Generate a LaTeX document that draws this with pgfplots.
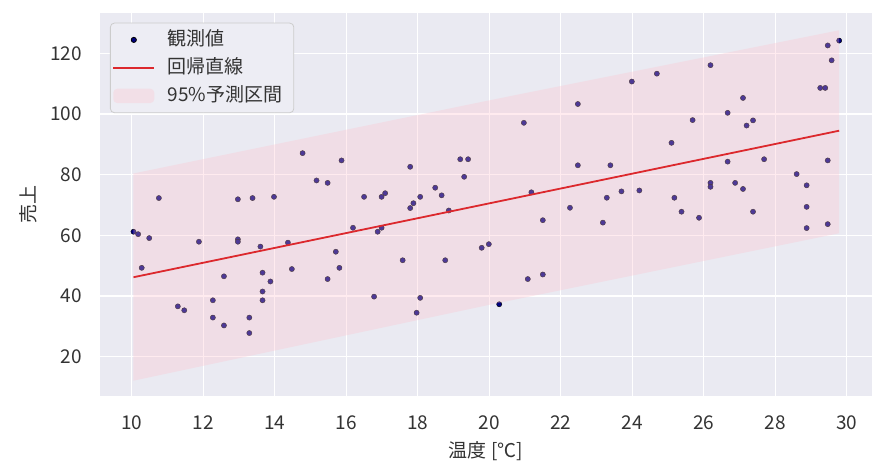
\documentclass[border=0pt]{standalone}
\usepackage{pgfplots}
\pgfplotsset{compat=1.18}
\usepackage{fontspec}
\setmainfont{Noto Sans CJK JP}
\definecolor{bgc}{HTML}{EAEAF2}
\definecolor{txt}{HTML}{333333}
\definecolor{ptc}{HTML}{000080}
\definecolor{linec}{RGB}{220,40,45}
\definecolor{bandc}{HTML}{FFC0CB}
\definecolor{legedge}{HTML}{CCCCCC}
\definecolor{legfill}{HTML}{EDEDF4}
\pgfplotsset{bandlegend/.style={legend image code/.code={\fill[##1] (0bp,-7.2bp) rectangle (41bp,7.2bp);}}}
\begin{document}
\begin{tikzpicture}
\useasboundingbox (-100bp,-76.3bp) rectangle (791bp,395.7bp);
\begin{axis}[
  scale only axis, width=771.7bp, height=382.4bp,
  at={(0,0)}, anchor=south west,
  clip mode=individual,
  xmin=9.113, xmax=30.70, ymin=7.15, ymax=133.2,
  xtick={10,12,...,30}, ytick={20,40,...,120},
  axis line style={draw=none}, tick style={draw=none},
  axis background/.style={fill=bgc},
  grid=major, major grid style={white, line width=1.3bp},
  font=\fontsize{19bp}{23bp}\selectfont,
  /pgf/number format/assume math mode=true,
  tick label style={text=txt, font=\fontsize{19bp}{23bp}\selectfont},
  xticklabel style={anchor=center, inner sep=0pt, yshift=-27.3bp},
  yticklabel style={anchor=east, inner sep=0pt, xshift=-18bp},
  xlabel={温度 [℃]}, ylabel={売上},
  xlabel style={at={(axis description cs:0.5,-0.1451)}, anchor=center, text=txt},
  ylabel style={at={(axis description cs:-0.0933,0.5)}, anchor=center, text=txt},
  legend cell align=left,
  legend style={at={(axis description cs:0,1)}, anchor=north west, xshift=10bp, yshift=-9.4bp,
    draw=legedge, line width=0.8bp, fill=legfill, rounded corners=4bp,
    inner xsep=2bp, inner ysep=2.8bp, column sep=9bp, text=txt,
    font=\fontsize{19bp}{23bp}\selectfont,
    nodes={text height=14.5bp, text depth=3.5bp, inner ysep=5bp, inner xsep=3.5bp}},
  legend image code/.code={\draw[mark repeat=2,mark phase=2,#1] plot coordinates {(0bp,0bp) (20.5bp,0bp) (41bp,0bp)};},
]
\addplot[only marks, mark=*, mark size=2.6bp, mark options={draw=none, fill=ptc}] coordinates {
(10.05,61.2) (10.18,60.4) (10.49,59.1) (10.28,49.3) (10.76,72.3)
(11.29,36.6) (11.47,35.3) (11.88,57.9) (12.27,38.6) (12.27,32.9)
(12.58,46.5) (12.58,30.3) (12.97,71.9) (12.97,58.7) (12.97,57.9)
(13.29,32.9) (13.29,27.8) (13.38,72.3) (13.60,56.3) (13.66,47.7)
(13.66,41.5) (13.66,38.6) (13.88,44.8) (13.98,72.7) (14.37,57.6)
(14.48,48.9) (14.78,87.1) (15.17,78.1) (15.48,77.3) (15.48,45.6)
(15.71,54.6) (15.81,49.3) (15.87,84.7) (16.19,62.5) (16.50,72.7)
(16.78,39.8) (16.88,61.2) (16.99,62.5) (16.99,72.7) (17.09,73.9)
(17.58,51.8) (17.79,82.6) (17.79,69.0) (17.88,70.6) (17.97,34.5)
(18.07,72.7) (18.07,39.4) (18.49,75.7) (18.67,73.2) (18.77,51.8)
(18.87,68.2) (19.19,85.1) (19.41,85.1) (19.30,79.3) (19.79,55.9)
(19.99,57.1) (20.28,37.3) (20.97,97.1) (21.08,45.6) (21.18,74.2)
(21.50,65.0) (21.50,47.1) (22.26,69.1) (22.48,103.3) (22.48,83.1)
(23.18,64.2) (23.29,72.4) (23.39,83.1) (23.70,74.5) (23.99,110.7)
(24.20,74.8) (24.69,113.3) (25.10,90.5) (25.18,72.4) (25.38,67.8)
(25.69,98.0) (25.87,65.8) (26.19,116.1) (26.19,77.3) (26.19,76.0)
(26.67,100.4) (26.67,84.3) (26.88,77.3) (27.10,105.3) (27.10,75.3)
(27.20,96.2) (27.38,97.9) (27.38,67.8) (27.69,85.1) (28.60,80.2)
(28.88,76.5) (28.88,69.4) (28.88,62.4) (29.26,108.6) (29.40,108.6)
(29.47,122.6) (29.58,117.7) (29.47,84.7) (29.47,63.7) (29.79,124.2)
};
\addlegendentry{観測値}
\addplot[forget plot, draw=none, fill=bandc, fill opacity=0.3] coordinates {
(10.05,12.1) (20.0,37.1) (29.79,60.7) (29.79,127.6) (20.0,104.5) (10.05,80.4)
};
\addplot[linec, line width=1.8bp, no marks] coordinates {(10.05,46.2) (29.79,94.5)};
\addlegendentry{回帰直線}
\addlegendimage{draw=none, fill=bandc, fill opacity=0.3, bandlegend}
\addlegendentry{95\%予測区間\hspace*{6bp}}
\end{axis}
\end{tikzpicture}
\end{document}
